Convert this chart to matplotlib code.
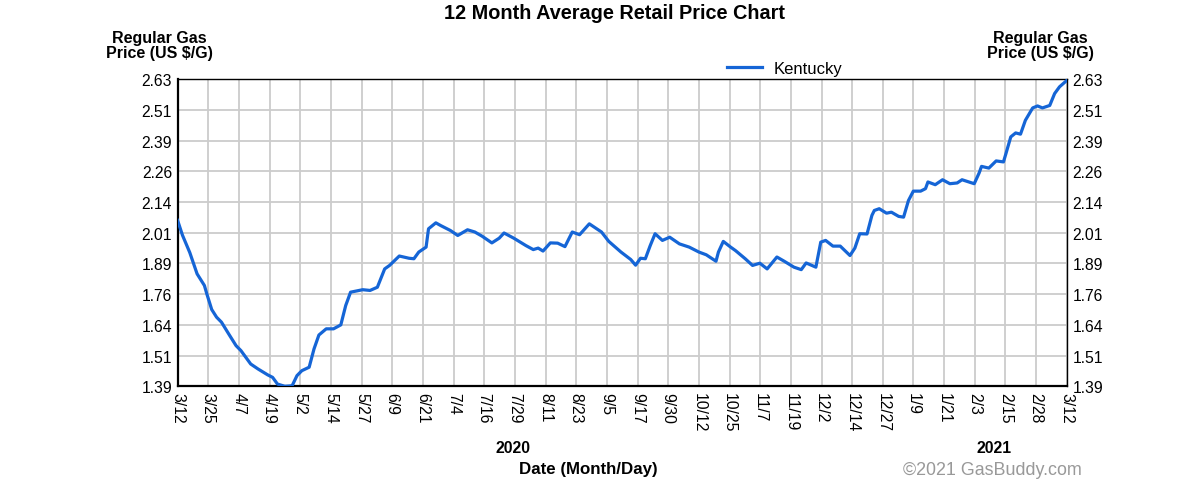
import matplotlib
matplotlib.use("Agg")
import matplotlib.pyplot as plt
import numpy as np
import pandas as pd

plt.rcParams['font.family'] = ['Liberation Sans', 'DejaVu Sans']

start_date = "2020-03-12"
dates = [
    "2020-03-12", "2020-03-14", "2020-03-17", "2020-03-20", "2020-03-23", "2020-03-24",
    "2020-03-26", "2020-03-28", "2020-03-30", "2020-04-02", "2020-04-05", "2020-04-07",
    "2020-04-11", "2020-04-14", "2020-04-18", "2020-04-20", "2020-04-22", "2020-04-25",
    "2020-04-28", "2020-04-30", "2020-05-02", "2020-05-05", "2020-05-07", "2020-05-09",
    "2020-05-12", "2020-05-15", "2020-05-18", "2020-05-20", "2020-05-22", "2020-05-27",
    "2020-05-30", "2020-06-02", "2020-06-05", "2020-06-07", "2020-06-11", "2020-06-15",
    "2020-06-17", "2020-06-19", "2020-06-22", "2020-06-23", "2020-06-26", "2020-06-28",
    "2020-07-02", "2020-07-05", "2020-07-09", "2020-07-12", "2020-07-15", "2020-07-19",
    "2020-07-22", "2020-07-24", "2020-07-28", "2020-08-02", "2020-08-05", "2020-08-07",
    "2020-08-09", "2020-08-12", "2020-08-15", "2020-08-18", "2020-08-21", "2020-08-24",
    "2020-08-28", "2020-08-30", "2020-09-02", "2020-09-05", "2020-09-10", "2020-09-14",
    "2020-09-16", "2020-09-18", "2020-09-20", "2020-09-22", "2020-09-24", "2020-09-27",
    "2020-09-30", "2020-10-04", "2020-10-08", "2020-10-12", "2020-10-15", "2020-10-19",
    "2020-10-20", "2020-10-22", "2020-10-25", "2020-10-27", "2020-10-31", "2020-11-03",
    "2020-11-06", "2020-11-09", "2020-11-13", "2020-11-16", "2020-11-20", "2020-11-23",
    "2020-11-25", "2020-11-29", "2020-12-01", "2020-12-03", "2020-12-06", "2020-12-09",
    "2020-12-13", "2020-12-15", "2020-12-17", "2020-12-20", "2020-12-22", "2020-12-23",
    "2020-12-25", "2020-12-28", "2020-12-30", "2021-01-02", "2021-01-04", "2021-01-06",
    "2021-01-08", "2021-01-11", "2021-01-13", "2021-01-14", "2021-01-17", "2021-01-20",
    "2021-01-23", "2021-01-26", "2021-01-28", "2021-02-02", "2021-02-04", "2021-02-05",
    "2021-02-08", "2021-02-11", "2021-02-14", "2021-02-15", "2021-02-17", "2021-02-19",
    "2021-02-21", "2021-02-23", "2021-02-26", "2021-02-28", "2021-03-02", "2021-03-05",
    "2021-03-07", "2021-03-09", "2021-03-12",
]
prices = [
    2.060, 2.000, 1.930, 1.844, 1.797, 1.763,
    1.700, 1.669, 1.649, 1.601, 1.554, 1.534,
    1.480, 1.460, 1.436, 1.426, 1.399, 1.390,
    1.392, 1.433, 1.453, 1.467, 1.541, 1.597,
    1.622, 1.622, 1.638, 1.716, 1.770, 1.780,
    1.777, 1.790, 1.864, 1.878, 1.916, 1.907,
    1.905, 1.932, 1.952, 2.026, 2.050, 2.039,
    2.019, 1.999, 2.022, 2.013, 1.996, 1.969,
    1.988, 2.009, 1.988, 1.958, 1.942, 1.948,
    1.936, 1.969, 1.968, 1.954, 2.013, 2.002,
    2.046, 2.033, 2.013, 1.975, 1.932, 1.902,
    1.879, 1.907, 1.905, 1.958, 2.006, 1.979,
    1.992, 1.965, 1.952, 1.932, 1.921, 1.895,
    1.932, 1.975, 1.952, 1.938, 1.905, 1.878,
    1.887, 1.864, 1.912, 1.895, 1.871, 1.861,
    1.888, 1.871, 1.972, 1.979, 1.956, 1.956,
    1.918, 1.948, 2.006, 2.005, 2.080, 2.100,
    2.107, 2.089, 2.093, 2.076, 2.073, 2.140,
    2.178, 2.178, 2.188, 2.215, 2.204, 2.224,
    2.208, 2.211, 2.224, 2.208, 2.251, 2.278,
    2.271, 2.300, 2.296, 2.329, 2.397, 2.413,
    2.408, 2.464, 2.514, 2.522, 2.514, 2.524,
    2.572, 2.599, 2.625,
]
x_tick_labels = ["3/12", "3/25", "4/7", "4/19", "5/2", "5/14", "5/27", "6/9", "6/21",
                 "7/4", "7/16", "7/29", "8/11", "8/23", "9/5", "9/17", "9/30", "10/12",
                 "10/25", "11/7", "11/19", "12/2", "12/14", "12/27", "1/9", "1/21",
                 "2/3", "2/15", "2/28", "3/12"]
y_ticks = [1.39, 1.51, 1.64, 1.76, 1.89, 2.01, 2.14, 2.26, 2.39, 2.51, 2.63]
series_name = "Kentucky"

t0 = pd.Timestamp(start_date)
days = np.array([(pd.Timestamp(d) - t0).days for d in dates])
total_days = (pd.Timestamp("2021-03-12") - t0).days

fig = plt.figure(figsize=(12, 4.89), dpi=100)
ax = fig.add_axes([0.148, 0.208, 0.741, 0.628])

ax.plot(days, prices, color='#1565d6', lw=2.3, solid_joinstyle='round', zorder=3,
        label=series_name)
ax.set_xlim(0, total_days)
ymin, ymax = 1.39, 2.63
ax.set_ylim(ymin, ymax)

xt = np.linspace(0, total_days, len(x_tick_labels))
ax.set_xticks(xt)
ax.set_xticklabels(x_tick_labels, rotation=-90, fontsize=11.3)
yt = np.linspace(ymin, ymax, len(y_ticks))
ax.set_yticks(yt)
ax.set_yticklabels([f"{v:.2f}" for v in y_ticks], fontsize=11.3)
ax.tick_params(axis='both', length=0, pad=4)
ax.tick_params(axis='y', labelright=True, right=False)
ax.tick_params(axis='x', pad=4)

ax.grid(True, color='#cccccc', lw=1.3, zorder=0)
for s in ax.spines.values():
    s.set_color('black')
    s.set_linewidth(1.0)
ax.spines['left'].set_linewidth(1.6)
ax.spines['bottom'].set_linewidth(1.6)

fig.text(0.512, 0.972, "12 Month Average Retail Price Chart", ha='center', va='center',
         fontsize=14.3, fontweight='bold')
fig.text(0.133, 0.906, "Regular Gas\nPrice (US $/G)", ha='center', va='center',
         fontsize=11.5, fontweight='bold', linespacing=1.0)
fig.text(0.867, 0.906, "Regular Gas\nPrice (US $/G)", ha='center', va='center',
         fontsize=11.5, fontweight='bold', linespacing=1.0)

leg = ax.legend(loc='lower left', bbox_to_anchor=(0.6105, 0.99), frameon=False,
                fontsize=12, handlelength=2.1, handletextpad=0.7, borderaxespad=0)

fig.text(0.4275, 0.0838, "2020", ha='center', va='center', fontsize=11.3, fontweight='bold')
fig.text(0.8288, 0.0838, "2021", ha='center', va='center', fontsize=11.3, fontweight='bold')
fig.text(0.49, 0.040, "Date (Month/Day)", ha='center', va='center', fontsize=12.2,
         fontweight='bold')
fig.text(0.8267, 0.037, "\u00a92021 GasBuddy.com", ha='center', va='center', fontsize=12.9,
         color='#999999')

fig.savefig("out.png", dpi=100)
